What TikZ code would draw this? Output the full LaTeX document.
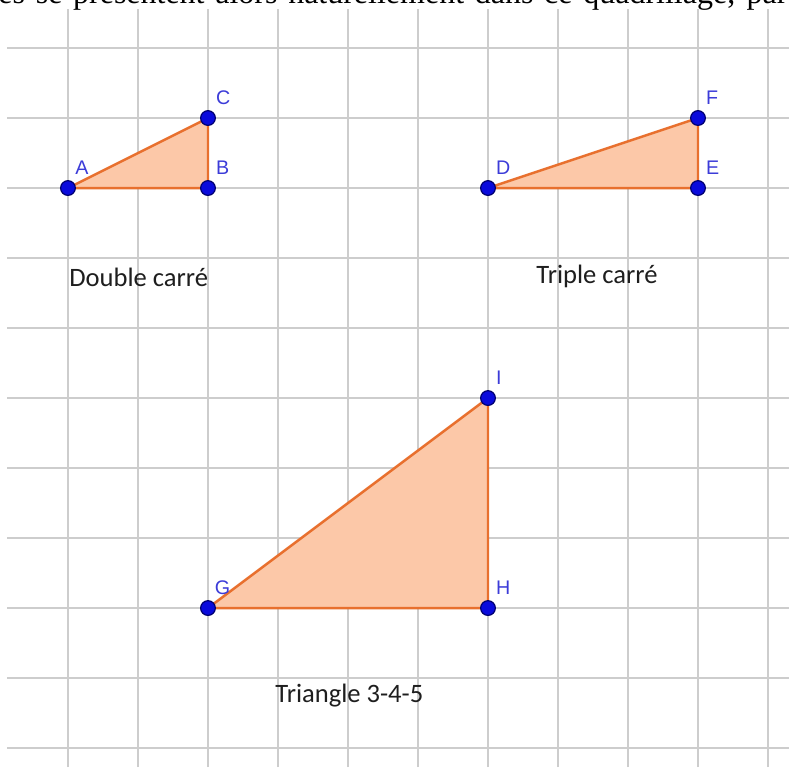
\documentclass[tikz,border=0pt]{standalone}
\usepackage{fontspec}
\usepackage{tikz}
\usepackage{xcolor}
\setmainfont{Liberation Serif}
\newfontfamily\captionfont{Carlito}
\newfontfamily\pointfont{Liberation Sans}
\usetikzlibrary{positioning}
\definecolor{GridGray}{HTML}{CDCDCD}
\definecolor{TriOrange}{HTML}{E8702E}
\definecolor{TriFill}{HTML}{FCC8A8}
\definecolor{PointBlue}{HTML}{0A0ADC}
\definecolor{PointNavy}{HTML}{000070}
\definecolor{LabelBlue}{HTML}{3C3CD8}
\definecolor{CaptionInk}{HTML}{1E1E1E}

\begin{document}
\begin{tikzpicture}[
    gridline/.style={draw=GridGray, line width=0.8pt},
    tri/.style={fill=TriFill, draw=TriOrange, line width=1pt, line join=round},
    dot/.style={circle, fill=PointBlue, draw=PointNavy, line width=0.5pt, minimum size=0.21cm, inner sep=0pt},
    ptlabel/.style={font=\pointfont\fontsize{8}{9}\selectfont, text=LabelBlue, inner sep=0pt},
    caption/.style={font=\captionfont\fontsize{10.8}{13}\selectfont, text=CaptionInk, inner sep=0pt, anchor=base}
  ]
    \clip (-0.971,-8.271) rectangle (10.3,2.686);
    \node[anchor=base west, inner sep=0pt, font=\fontsize{13}{15}\selectfont] (intro) at (-1.0,2.64) {\makebox[11.27cm][s]{es se présentent alors naturellement dans ce quadrillage, par}};
    \draw[gridline, step=1cm] (-0.864,-8.271) grid (10.3,2.557);

    \coordinate (A) at (0,0);
    \coordinate (B) at (2,0);
    \coordinate (C) at (2,1);
    \coordinate (D) at (6,0);
    \coordinate (E) at (9,0);
    \coordinate (F) at (9,1);
    \coordinate (G) at (2,-6);
    \coordinate (H) at (6,-6);
    \coordinate (I) at (6,-3);

    \filldraw[tri] (A) -- (B) -- (C) -- cycle;
    \filldraw[tri] (D) -- (E) -- (F) -- cycle;
    \filldraw[tri] (G) -- (H) -- (I) -- cycle;

    \node[dot] (dotA) at (A) {};
    \node[dot] (dotB) at (B) {};
    \node[dot] (dotC) at (C) {};
    \node[dot] (dotD) at (D) {};
    \node[dot] (dotE) at (E) {};
    \node[dot] (dotF) at (F) {};
    \node[dot] (dotG) at (G) {};
    \node[dot] (dotH) at (H) {};
    \node[dot] (dotI) at (I) {};

    \node[ptlabel, above right=0.19cm and 0.1cm of A] (labA) {A};
    \node[ptlabel, above right=0.19cm and 0.11cm of B] (labB) {B};
    \node[ptlabel, above right=0.19cm and 0.11cm of C] (labC) {C};
    \node[ptlabel, above right=0.19cm and 0.11cm of D] (labD) {D};
    \node[ptlabel, above right=0.19cm and 0.11cm of E] (labE) {E};
    \node[ptlabel, above right=0.19cm and 0.11cm of F] (labF) {F};
    \node[ptlabel, above right=0.19cm and 0.09cm of G] (labG) {G};
    \node[ptlabel, above right=0.19cm and 0.11cm of H] (labH) {H};
    \node[ptlabel, above right=0.19cm and 0.11cm of I] (labI) {I};

    \node[caption] (double) at (1.01,-1.4) {Double carré};
    \node[caption] (triple) at (7.557,-1.357) {Triple carré};
    \node[caption] (pythag) at (4.02,-7.343) {Triangle 3-4-5};
  \end{tikzpicture}
\end{document}
